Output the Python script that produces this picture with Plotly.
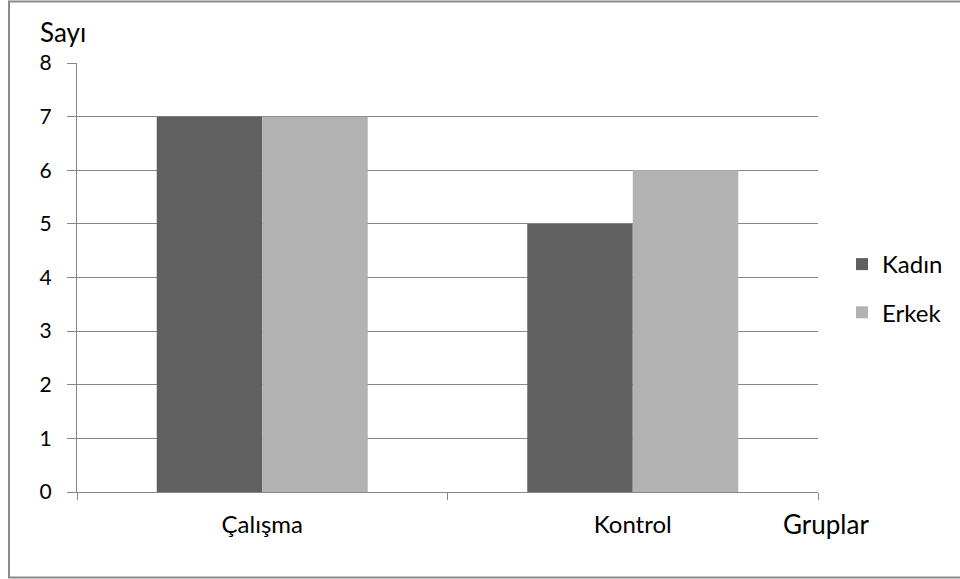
import plotly.graph_objects as go

categories = ["Çalışma", "Kontrol"]
kadin = [7, 5]
erkek = [7, 6]
series_names = ["Kadın", "Erkek"]
y_ticks = [0, 1, 2, 3, 4, 5, 6, 7, 8]

W, H = 960, 579
L, R, T, B = 77, 818, 63, 492
FONT = "Lato"
GRID = "#878787"

def px_x(p):
    return (p - L) / (R - L)

def px_y(p):
    return (B - p) / (B - T)

fig = go.Figure()
fig.add_trace(go.Bar(x=categories, y=kadin, name=series_names[0],
                     marker=dict(color="#606060", line=dict(width=0)),
                     legendgroup="a"))
fig.add_trace(go.Bar(x=categories, y=erkek, name=series_names[1],
                     marker=dict(color="#b2b2b2", line=dict(width=0)),
                     legendgroup="b"))

fig.update_layout(
    width=W, height=H,
    margin=dict(l=L, r=W - R, t=T, b=H - B, pad=0, autoexpand=False),
    paper_bgcolor="white", plot_bgcolor="white",
    barmode="group", bargap=1 - 211 / 370.5, bargroupgap=0,
    font=dict(family=FONT, color="black", size=24),
    legend=dict(x=px_x(842), y=px_y(242), xanchor="left", yanchor="top",
                traceorder="grouped", tracegroupgap=14,
                font=dict(size=24), bgcolor="rgba(0,0,0,0)"),
    xaxis=dict(type="category", showgrid=False, showline=True, linecolor=GRID,
               linewidth=1, ticks="outside", tickson="boundaries", ticklen=7,
               tickcolor=GRID, tickwidth=1, ticklabelstandoff=11,
               tickfont=dict(size=24, family=FONT)),
    yaxis=dict(range=[0, 8], tickvals=y_ticks, showgrid=True, gridcolor=GRID,
               gridwidth=1, showline=True, linecolor=GRID, linewidth=1,
               ticks="outside", ticklen=9, tickcolor=GRID, tickwidth=1,
               ticklabelstandoff=11, zeroline=False,
               tickfont=dict(size=21, family=FONT)),
    annotations=[
        dict(text="Sayı", xref="paper", yref="paper", x=px_x(38), y=px_y(32),
             xanchor="left", yanchor="middle", showarrow=False,
             font=dict(size=26, family=FONT)),
        dict(text="Gruplar", xref="paper", yref="paper", x=px_x(781), y=px_y(524),
             xanchor="left", yanchor="middle", showarrow=False,
             font=dict(size=26, family=FONT)),
    ],
    shapes=[
        dict(type="rect", xref="paper", yref="paper",
             x0=px_x(9), x1=px_x(1010), y0=px_y(577.5), y1=px_y(1.5),
             line=dict(color="#8a8a8a", width=2), fillcolor="rgba(0,0,0,0)",
             layer="below"),
    ],
)

fig.write_html(
    "out.html",
    config={"displayModeBar": False},
    post_script="document.body.style.margin='0';document.body.style.overflow='hidden';",
)
